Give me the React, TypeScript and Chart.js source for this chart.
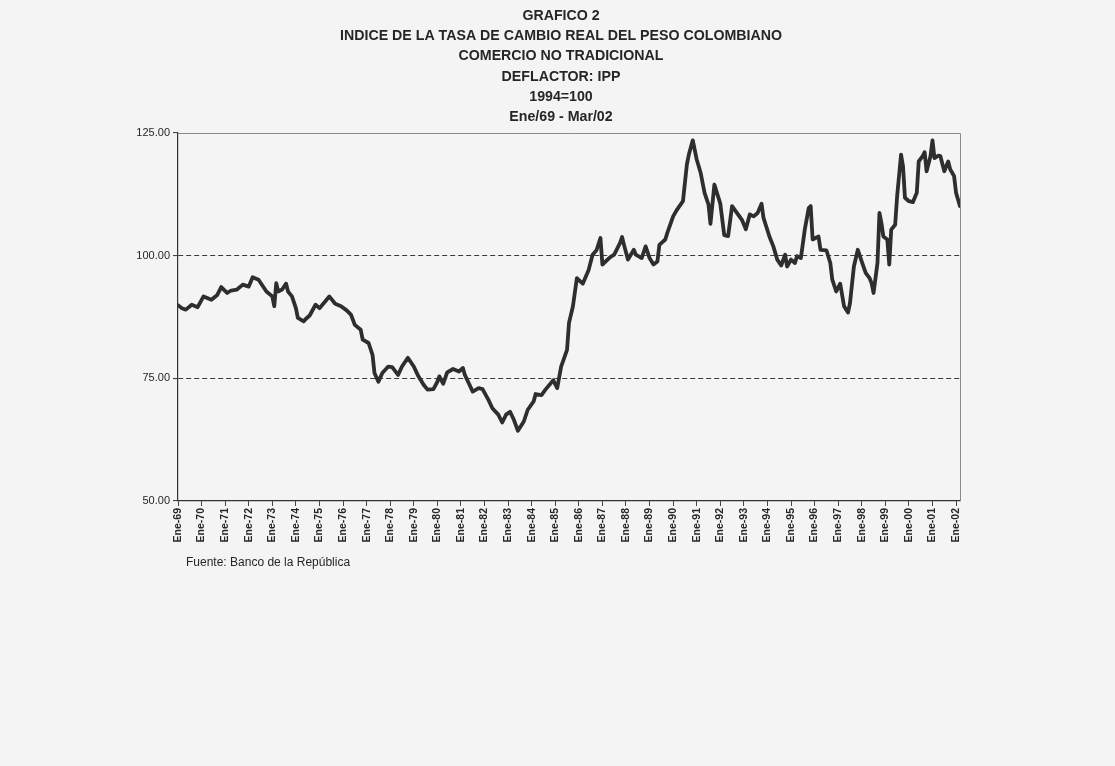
import React, { useEffect, useRef } from "react";
import { Chart, registerables } from "chart.js";

Chart.register(...registerables);

const TITLE_LINES = [
  "GRAFICO 2",
  "INDICE DE LA TASA DE CAMBIO REAL DEL PESO COLOMBIANO",
  "COMERCIO NO TRADICIONAL",
  "DEFLACTOR: IPP",
  "1994=100",
  "Ene/69 - Mar/02",
];
const SOURCE_NOTE = "Fuente: Banco de la República";

const TICK_LABELS = [
  "Ene-69", "Ene-70", "Ene-71", "Ene-72", "Ene-73", "Ene-74", "Ene-75", "Ene-76",
  "Ene-77", "Ene-78", "Ene-79", "Ene-80", "Ene-81", "Ene-82", "Ene-83", "Ene-84",
  "Ene-85", "Ene-86", "Ene-87", "Ene-88", "Ene-89", "Ene-90", "Ene-91", "Ene-92",
  "Ene-93", "Ene-94", "Ene-95", "Ene-96", "Ene-97", "Ene-98", "Ene-99", "Ene-00",
  "Ene-01", "Ene-02",
];
// month index (0 = Ene-69) of each yearly tick
const TICK_MONTHS = TICK_LABELS.map((_, i) => i * 12);
const LAST_MONTH = 398; // Mar-02

const Y_TICKS = [50, 75, 100, 125];
const DASHED_LEVELS = [75, 100];

// month index since Ene-69
const MONTHS = [
  0, 2, 4, 7, 10, 13, 17, 20, 22, 25, 27, 30, 33, 36, 38, 41, 45, 48, 49, 50,
  51, 53, 55, 56, 58, 60, 61, 64, 65, 67, 70, 72, 75, 77, 80, 83, 86, 88, 90, 93,
  94, 97, 99, 100, 102, 104, 107, 109, 112, 114, 117, 120, 122, 125, 127, 130, 132, 133, 135, 137,
  140, 143, 145, 146, 148, 150, 153, 155, 158, 160, 163, 165, 167, 169, 171, 173, 176, 178, 181, 182,
  185, 187, 191, 193, 195, 198, 199, 201, 203, 206, 209, 211, 213, 215, 216, 220, 222, 225, 226, 227,
  229, 232, 233, 236, 238, 240, 242, 244, 245, 248, 249, 252, 254, 257, 259, 260, 262, 264, 266, 268,
  270, 271, 273, 276, 278, 280, 282, 285, 287, 289, 291, 293, 295, 297, 298, 301, 303, 305, 307, 309,
  310, 312, 314, 315, 317, 319, 321, 322, 323, 326, 327, 330, 332, 333, 335, 337, 339, 341, 342, 344,
  346, 348, 350, 352, 353, 354, 356, 357, 358, 359, 361, 362, 363, 365, 366, 368, 369, 370, 372, 374,
  376, 377, 379, 380, 381, 383, 384, 385, 387, 388, 390, 392, 393, 395, 396, 398,
];

// real exchange-rate index (1994 = 100)
const VALUES = [
  89.9, 89.3, 89.0, 90.0, 89.5, 91.7, 91.0, 92.0, 93.6, 92.4, 92.9, 93.1, 94.1, 93.7, 95.6, 95.1, 92.7, 91.7, 89.7, 94.4,
  92.7, 93.1, 94.3, 92.7, 91.7, 89.3, 87.3, 86.6, 87.1, 87.8, 90.0, 89.3, 90.7, 91.7, 90.2, 89.7, 88.8, 88.0, 85.9, 84.9,
  82.9, 82.2, 79.8, 76.1, 74.3, 76.1, 77.4, 77.3, 75.7, 77.4, 79.2, 77.4, 75.7, 73.7, 72.7, 72.8, 74.3, 75.4, 73.9, 76.2,
  76.9, 76.4, 77.1, 75.7, 74.0, 72.3, 73.0, 72.8, 70.6, 68.9, 67.6, 66.0, 67.6, 68.2, 66.5, 64.3, 66.2, 68.6, 70.3, 71.8,
  71.6, 72.7, 74.6, 73.0, 77.4, 80.8, 86.3, 89.7, 95.4, 94.3, 97.1, 100.2, 101.1, 103.6, 98.2, 99.7, 100.2, 102.6, 103.8, 102.2,
  99.2, 101.2, 100.2, 99.5, 101.9, 99.5, 98.2, 98.8, 102.2, 103.3, 104.6, 108.0, 109.4, 111.1, 118.6, 120.6, 123.5, 119.6, 116.9, 112.8,
  110.4, 106.5, 114.5, 110.6, 104.2, 104.0, 110.1, 108.4, 107.3, 105.4, 108.4, 108.0, 108.7, 110.6, 107.7, 103.9, 101.9, 99.2, 98.0, 100.2,
  97.8, 99.2, 98.5, 99.9, 99.5, 105.3, 109.7, 110.1, 103.3, 103.9, 101.2, 101.1, 98.5, 95.1, 92.7, 94.3, 89.7, 88.4, 90.3, 97.8,
  101.2, 98.8, 96.5, 95.4, 94.4, 92.4, 98.5, 108.7, 106.7, 103.9, 103.3, 98.2, 105.3, 106.3, 112.1, 120.6, 118.2, 111.8, 111.1, 110.9,
  112.8, 119.2, 120.3, 121.1, 117.2, 120.3, 123.5, 119.9, 120.4, 120.3, 117.2, 119.2, 117.6, 116.2, 112.8, 110.1,
];

const BG = "#f4f4f4";
const INK = "#262626";
const FONT = '"Liberation Sans", Arial, sans-serif';

export default function App() {
  const canvasRef = useRef<HTMLCanvasElement | null>(null);

  useEffect(() => {
    const canvas = canvasRef.current;
    if (!canvas) return;

    const backgroundPlugin = {
      id: "paperBackground",
      beforeDraw(chart: any) {
        const { ctx, width, height } = chart;
        ctx.save();
        ctx.fillStyle = BG;
        ctx.fillRect(0, 0, width, height);
        ctx.restore();
      },
    };

    const framePlugin = {
      id: "plotFrame",
      beforeDatasetsDraw(chart: any) {
        const { ctx, chartArea } = chart;
        ctx.save();
        ctx.strokeStyle = "#8a8a8a";
        ctx.lineWidth = 1;
        ctx.beginPath();
        ctx.moveTo(chartArea.left, chartArea.top + 0.5);
        ctx.lineTo(chartArea.right + 0.5, chartArea.top + 0.5);
        ctx.lineTo(chartArea.right + 0.5, chartArea.bottom);
        ctx.stroke();
        ctx.restore();
      },
    };

    const textPlugin = {
      id: "textBlocks",
      afterDraw(chart: any) {
        const { ctx, chartArea } = chart;
        ctx.save();
        ctx.fillStyle = INK;
        ctx.textAlign = "center";
        ctx.textBaseline = "middle";
        ctx.font = `bold 14.2px ${FONT}`;
        const cx = (chartArea.left + chartArea.right) / 2 - 8;
        TITLE_LINES.forEach((line, i) => {
          ctx.fillText(line, cx, 16 + i * 20.2);
        });
        ctx.textAlign = "left";
        ctx.font = `12px ${FONT}`;
        ctx.fillText(SOURCE_NOTE, chartArea.left + 8, chartArea.bottom + 62);
        ctx.restore();
      },
    };

    const chart = new Chart(canvas, {
      type: "line",
      data: {
        datasets: [
          {
            label: "ITCR",
            data: MONTHS.map((m, i) => ({ x: m, y: VALUES[i] })),
            borderColor: "#2e2e2e",
            borderWidth: 3.8,
            pointRadius: 0,
            tension: 0,
            fill: false,
            borderJoinStyle: "round",
            borderCapStyle: "round",
          },
        ],
      },
      options: {
        animation: false,
        responsive: false,
        maintainAspectRatio: false,
        layout: {
          padding: { top: 133, left: 120, right: 155, bottom: 217 },
        },
        plugins: {
          legend: { display: false },
          tooltip: { enabled: false },
          title: { display: false },
        },
        scales: {
          x: {
            type: "linear",
            min: 0,
            max: LAST_MONTH,
            afterFit(scale: any) {
              scale.height = 48;
            },
            afterBuildTicks(scale: any) {
              scale.ticks = TICK_MONTHS.map((v) => ({ value: v }));
            },
            grid: {
              drawOnChartArea: false,
              drawTicks: true,
              tickLength: 5,
              tickColor: "#444",
              tickWidth: 1,
            },
            border: { display: true, color: "#333", width: 1.2 },
            ticks: {
              autoSkip: false,
              minRotation: 90,
              maxRotation: 90,
              padding: 2,
              color: INK,
              font: { family: FONT, size: 10.5, weight: "bold" },
              callback: (_v: any, index: number) => TICK_LABELS[index],
            },
          },
          y: {
            type: "linear",
            min: 50,
            max: 125,
            afterFit(scale: any) {
              scale.width = 58;
            },
            afterBuildTicks(scale: any) {
              scale.ticks = Y_TICKS.map((v) => ({ value: v }));
            },
            grid: {
              drawOnChartArea: true,
              drawTicks: true,
              tickLength: 5,
              tickColor: "#444",
              lineWidth: 1.1,
              color: (ctx: any) =>
                ctx.tick && DASHED_LEVELS.includes(ctx.tick.value) ? "#3c3c3c" : "rgba(0,0,0,0)",
            },
            border: { display: true, color: "#333", width: 1.2, dash: [5, 3] },
            ticks: {
              padding: 3,
              color: INK,
              font: { family: FONT, size: 11 },
              callback: (v: any) => Number(v).toFixed(2),
            },
          },
        },
      },
      plugins: [backgroundPlugin, framePlugin, textPlugin],
    });

    return () => {
      chart.destroy();
    };
  }, []);

  return (
    <div
      style={{
        position: "fixed",
        left: 0,
        top: 0,
        width: 1115,
        height: 766,
        background: BG,
      }}
    >
      <canvas ref={canvasRef} width={1115} height={766} style={{ width: 1115, height: 766 }} />
    </div>
  );
}
